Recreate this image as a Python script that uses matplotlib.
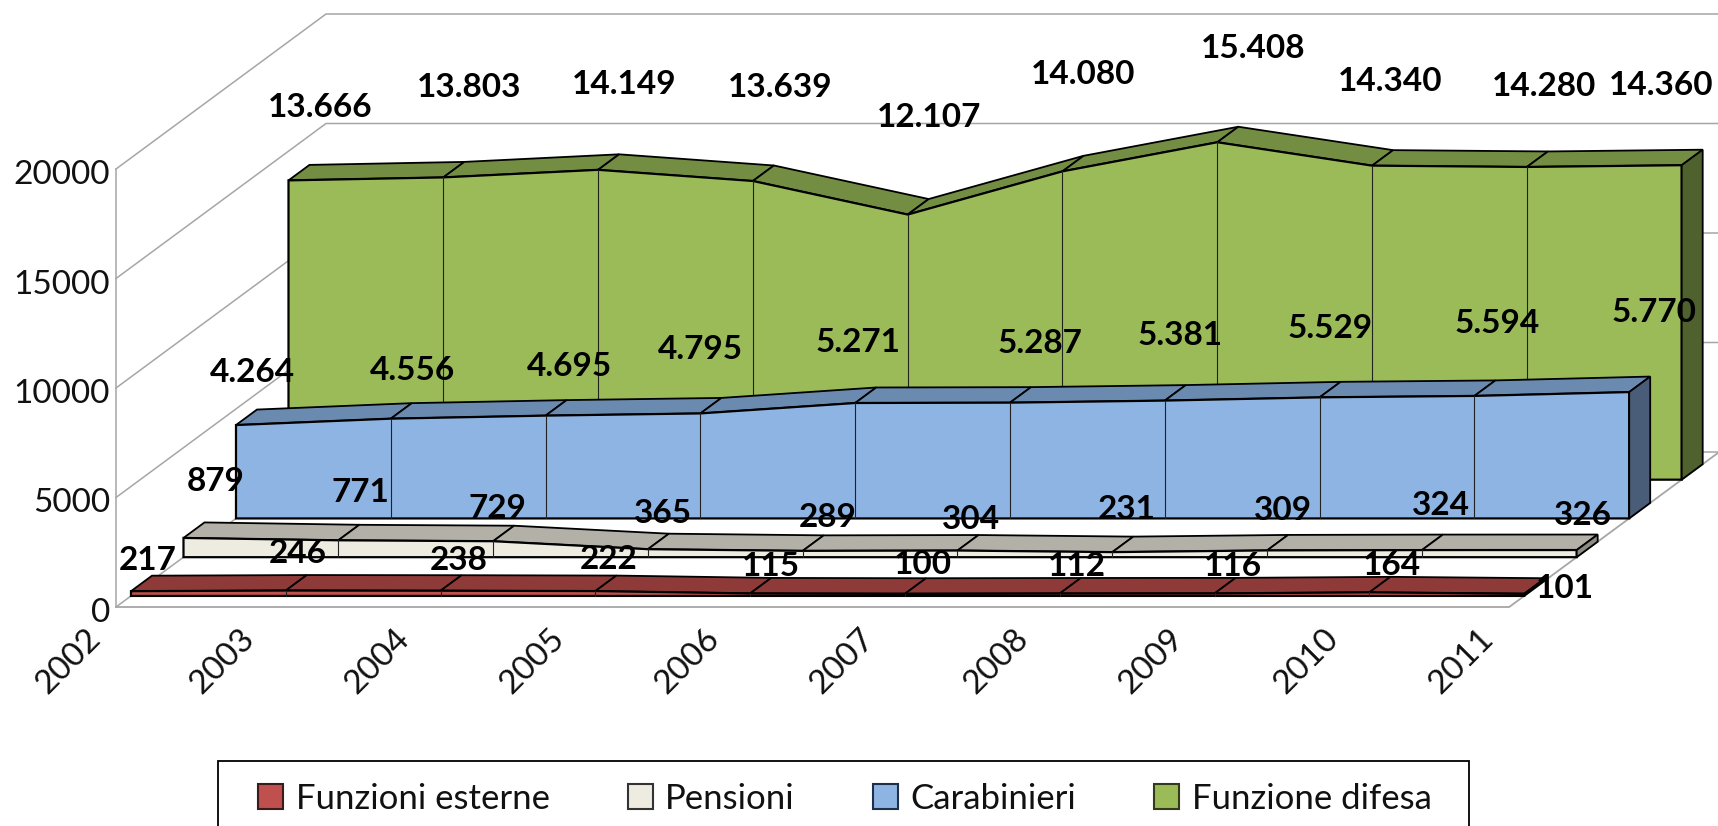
import matplotlib
matplotlib.use("Agg")
import matplotlib.pyplot as plt
from matplotlib.patches import Polygon, Rectangle

plt.rcParams['font.family'] = ['Lato', 'DejaVu Sans']

# ---- data -------------------------------------------------------------
years = ['2002', '2003', '2004', '2005', '2006', '2007', '2008', '2009', '2010', '2011']
y_ticks = [0, 5000, 10000, 15000, 20000]
funzioni_esterne = [217, 246, 238, 222, 115, 100, 112, 116, 164, 101]
pensioni = [879, 771, 729, 365, 289, 304, 231, 309, 324, 326]
carabinieri = [4264, 4556, 4695, 4795, 5271, 5287, 5381, 5529, 5594, 5770]
funzione_difesa = [13666, 13803, 14149, 13639, 12107, 14080, 15408, 14340, 14280, 14360]
series_names = ['Funzioni esterne', 'Pensioni', 'Carabinieri', 'Funzione difesa']
series_values = [funzioni_esterne, pensioni, carabinieri, funzione_difesa]

# ---- styles -----------------------------------------------------------
front_colors = ['#C0504D', '#EEECE1', '#8EB4E3', '#9BBB59']
top_colors = ['#8E3A38', '#B3B0A8', '#6A8AB0', '#738D43']
side_colors = ['#6E2D2B', '#8C8B84', '#4A5D78', '#4F612D']
legend_edges = ['#3A1A1A', '#333333', '#1F2F4A', '#333A1A']
GRID = '#A6A6A6'

# hand placement of the value labels relative to their point (pixels)
label_shift = [
    [(17, -33), (12, -39.5), (18, -33), (13, -34), (21, -29.5), (18, -32), (17, -29.5), (18, -29.5), (23, -29.5), (41, -8)],
    [(32.5, -59), (22, -50), (4, -35), (15.5, -38.5), (25, -36), (14, -33.5), (14.5, -45), (16, -42.5), (19, -47), (6.5, -37)],
    [(16, -55), (22, -50.5), (24, -51.5), (0, -66.5), (3, -63), (29.5, -61.5), (15, -67.5), (11, -71), (22.5, -75), (25, -82)],
    [(31.5, -75.5), (26, -92), (26.5, -88), (27.5, -95.5), (21, -99.5), (21, -99.5), (35.5, -96.5), (18, -86.5), (17, -83), (-20.5, -82)],
]
LABEL_NUDGE_Y = 2.5

# ---- oblique projection ------------------------------------------------
X0, Y0 = 116.0, 607.0        # front-left floor corner
CAT_W = 154.8                # pixels per category
PX_PER_UNIT = 0.0219         # pixels per value unit
DEPTH_X, DEPTH_Y = 210.0, 155.0
SER_START = 0.0714           # depth of first series front
SER_STEP = 0.25              # depth step between series
SER_THICK = 0.10             # depth thickness of a ribbon


def proj(cat, depth, value):
    return (X0 + CAT_W * cat + DEPTH_X * depth,
            Y0 - PX_PER_UNIT * value - DEPTH_Y * depth)


fig = plt.figure(figsize=(17.18, 8.26), dpi=100)
ax = fig.add_axes([0, 0, 1, 1])
ax.set_xlim(0, 1718)
ax.set_ylim(826, 0)
ax.axis('off')

n = len(years)
last = n - 1

# ---- walls and gridlines ----------------------------------------------
for v in y_ticks:
    a, b, c = proj(0, 0, v), proj(0, 1, v), proj(last, 1, v)
    ax.plot([a[0], b[0], c[0]], [a[1], b[1], c[1]], color=GRID, lw=1.1, zorder=1)
    ax.text(a[0] - 6, a[1] + 6, str(v), ha='right', va='center', fontsize=24, color='#111111')
p, q = proj(0, 0, 0), proj(0, 0, y_ticks[-1])
ax.plot([p[0], q[0]], [p[1], q[1]], color=GRID, lw=1.1, zorder=1)
p, q, r = proj(0, 0, 0), proj(last, 0, 0), proj(last, 1, 0)
ax.plot([p[0], q[0], r[0]], [p[1], q[1], r[1]], color=GRID, lw=1.3, zorder=1)

# ---- ribbons, back to front -------------------------------------------
z = 2
for s in reversed(range(len(series_values))):
    vals = series_values[s]
    d0 = SER_START + SER_STEP * s
    d1 = d0 + SER_THICK
    for i in range(last):
        top = [proj(i, d0, vals[i]), proj(i + 1, d0, vals[i + 1]),
               proj(i + 1, d1, vals[i + 1]), proj(i, d1, vals[i])]
        ax.add_patch(Polygon(top, closed=True, fc=top_colors[s], ec='black', lw=1.3, zorder=z))
    front = [proj(i, d0, vals[i]) for i in range(n)] + [proj(last, d0, 0), proj(0, d0, 0)]
    ax.add_patch(Polygon(front, closed=True, fc=front_colors[s], ec='black', lw=1.6, zorder=z + 1))
    for i in range(1, last):
        a, b = proj(i, d0, vals[i]), proj(i, d0, 0)
        ax.plot([a[0], b[0]], [a[1], b[1]], color='#222222', lw=0.8, zorder=z + 1.5)
    side = [proj(last, d0, vals[last]), proj(last, d1, vals[last]), proj(last, d1, 0), proj(last, d0, 0)]
    ax.add_patch(Polygon(side, closed=True, fc=side_colors[s], ec='black', lw=1.3, zorder=z + 1))
    z += 2

# ---- value labels -----------------------------------------------------
for s, vals in enumerate(series_values):
    d0 = SER_START + SER_STEP * s
    for i, v in enumerate(vals):
        x, y = proj(i, d0, v)
        dx, dy = label_shift[s][i]
        txt = f'{v:,}'.replace(',', '.')
        ax.text(x + dx, y + dy + LABEL_NUDGE_Y, txt, ha='center', va='center', fontsize=24,
                fontweight='bold', color='black', zorder=30)

# ---- category labels --------------------------------------------------
for i, yr in enumerate(years):
    x, y = proj(i, 0, 0)
    ax.text(x - 48, y + 54, yr, rotation=45, ha='center', va='center',
            fontsize=24, color='#111111', zorder=30)

# ---- legend -----------------------------------------------------------
ax.add_patch(Rectangle((218, 761), 1251, 80, fc='white', ec='black', lw=1.3, zorder=31))
handles = [Rectangle((0, 0), 1, 1, fc=front_colors[k], ec=legend_edges[k], lw=1.5) for k in range(4)]
leg = ax.legend(handles, series_names, ncol=4, frameon=False,
                loc='upper left', bbox_to_anchor=(258 / 1718, 1 - 783 / 826),
                borderaxespad=0, borderpad=0, fontsize=25,
                handlelength=0.72, handleheight=0.72, handletextpad=0.36,
                columnspacing=2.25)
leg.set_zorder(32)
for t in leg.get_texts():
    t.set_color('#111111')

fig.savefig('out.png', dpi=100)
